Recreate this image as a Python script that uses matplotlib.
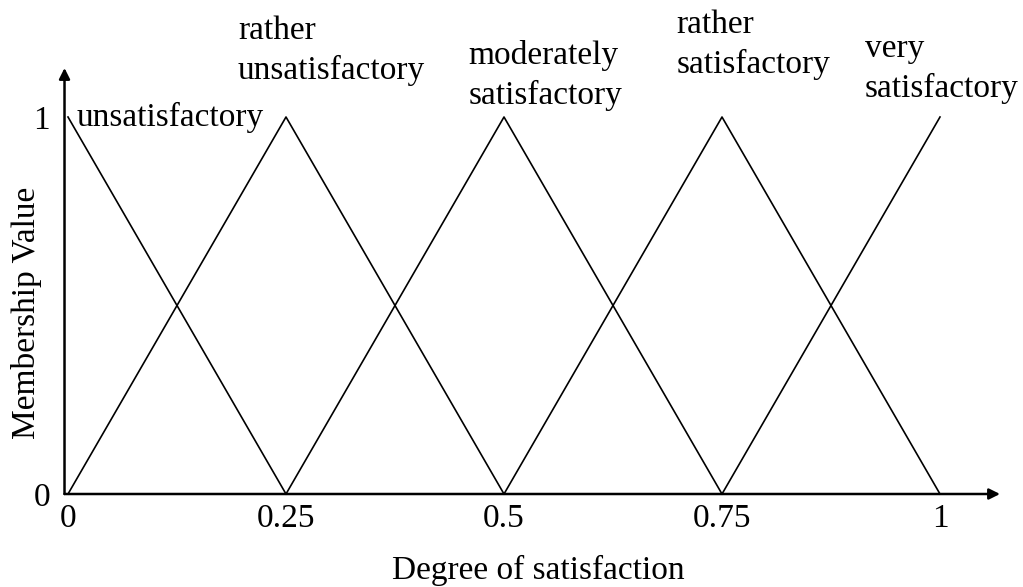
import matplotlib.pyplot as plt

# Triangular membership functions (x points, y points)
sets = ['unsatisfactory', 'rather\nunsatisfactory', 'moderately\nsatisfactory',
        'rather\nsatisfactory', 'very\nsatisfactory']
set_x = [[0, 0.25], [0, 0.25, 0.5], [0.25, 0.5, 0.75], [0.5, 0.75, 1.0], [0.75, 1.0]]
set_y = [[1, 0], [0, 1, 0], [0, 1, 0], [0, 1, 0], [0, 1]]
label_pos = [(0.01, 1.0), (0.195, 1.175), (0.459, 1.111), (0.698, 1.191), (0.914, 1.127)]

x_ticks = [0, 0.25, 0.5, 0.75, 1]
x_tick_labels = ['0', '0.25', '0.5', '0.75', '1']
y_ticks = [0, 1]
y_tick_labels = ['0', '1']

FS = 24


def main():
    plt.rcParams['font.family'] = ['Liberation Serif', 'DejaVu Serif']
    fig = plt.figure(figsize=(10.23, 5.87), dpi=100)
    # axes span from the y axis to the tip of the x arrow
    ax = fig.add_axes([68 / 1023, 1 - 494 / 587, (1000 - 68) / 1023, (494 - 68) / 587])
    ax.set_xlim(0, (1000 - 68) / 872)
    ax.set_ylim(0, (494 - 68) / 377)

    for xs, ys in zip(set_x, set_y):
        ax.plot(xs, ys, color='black', lw=1.2, clip_on=False)

    for name, (tx, ty) in zip(sets, label_pos):
        ax.text(tx, ty, name, fontsize=FS, ha='left', va='center', linespacing=1.38, clip_on=False)

    # axes drawn as arrows
    xmax = ax.get_xlim()[1]
    ymax = ax.get_ylim()[1]
    arrow = dict(arrowstyle='-|>', lw=1.8, color='black', mutation_scale=16, shrinkA=0, shrinkB=0)
    ax.annotate('', xy=(xmax, 0), xytext=(-0.004, 0), arrowprops=arrow, annotation_clip=False)
    ax.annotate('', xy=(-0.004, ymax), xytext=(-0.004, 0), arrowprops=arrow, annotation_clip=False)

    for s in ax.spines.values():
        s.set_visible(False)
    ax.set_xticks(x_ticks)
    ax.set_xticklabels(x_tick_labels)
    ax.set_yticks(y_ticks)
    ax.set_yticklabels(y_tick_labels)
    ax.tick_params(axis='x', length=0, pad=7, labelsize=FS)
    ax.tick_params(axis='y', length=0, pad=13, labelsize=FS)

    fig.text(538 / 1023, 1 - 570 / 587, 'Degree of satisfaction', fontsize=FS, ha='center', va='center')
    fig.text(27 / 1023, 1 - 313 / 587, 'Membership Value', fontsize=FS, rotation=90, ha='center', va='center')

    fig.savefig('out.png', dpi=100)


if __name__ == '__main__':
    main()
